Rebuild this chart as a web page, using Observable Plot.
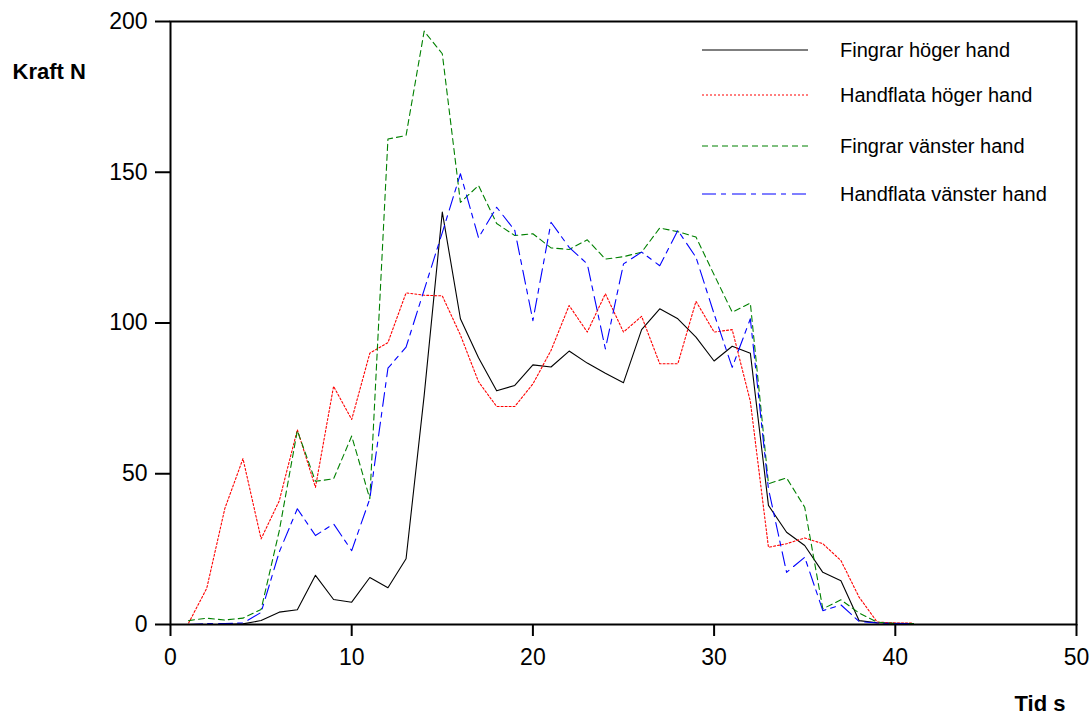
<!DOCTYPE html>
<html><head><meta charset="utf-8">
<script src="https://cdn.jsdelivr.net/npm/d3@7"></script>
<script src="https://cdn.jsdelivr.net/npm/@observablehq/plot@0.6"></script>
<style>body{margin:0;background:#fff;} #chart{width:1090px;height:717px;}</style>
</head><body><div id="chart"></div>
<script>
const time = [1,2,3,4,5,6,7,8,9,10,11,12,13,14,15,16,17,18,19,20,21,22,23,24,25,26,27,28,29,30,31,32,33,34,35,36,37,38,39,40,41];
const fingrarHoger = [0,0,0,0.2,1.3,4.1,4.9,16.3,8.3,7.4,15.6,12.2,21.8,76,136.8,101.4,88.5,77.5,79.3,86.1,85.4,90.7,86.7,83.3,80.2,97.8,104.7,101.4,95.3,87.4,92.3,90,39.5,30.6,26.2,17.3,14.5,1.3,0.6,0.4,0.3];
const handflataHoger = [0.5,12,38.5,55,28.4,41,64.6,45.5,79,68,90,93.5,110,109.2,109,96,80.5,72.3,72.3,79.8,90.9,105.8,97,109.7,97,102.2,86.5,86.5,107.2,97,97.8,74,25.6,26.8,28.7,26.8,21.2,9.1,0.8,0.5,0.5];
const fingrarVanster = [1.3,2.1,1.5,2.1,5,31,64.3,47.5,48.3,62.5,41.7,161,162.2,196.8,189.3,140,145.6,133,129,129.6,124.9,124.4,127.6,121.2,122,123.5,131.5,130.3,128.5,116,103.6,106.6,46.7,48.6,38.9,5.2,8.2,3.8,0.8,0.3,0.3];
const handflataVanster = [0,0.3,0.3,0.5,4,24,38.4,29.5,33.4,24.5,41.7,85,92,111,130,149.5,128.3,138.4,130.7,100.8,133.4,125.1,119.6,91.4,119.6,123.5,119,130.7,121.8,103,85.3,101.4,45,17.3,22.3,4.6,6.5,1,0.5,0.3,0.3];

const seriesNames = ["Fingrar höger hand","Handflata höger hand","Fingrar vänster hand","Handflata vänster hand"];
const seriesValues = [fingrarHoger, handflataHoger, fingrarVanster, handflataVanster];
const seriesColors = ["#000000","#ff0000","#008000","#0000ff"];
const seriesDash = [null,"2,2","6,4","14,5,5,6"];
const xTicks = [0,10,20,30,40,50];
const yTicks = [0,50,100,150,200];

const rows = [];
seriesNames.forEach((name,i)=> seriesValues[i].forEach((v,j)=> rows.push({t: time[j], v, s: name})));

const font = "'Liberation Sans', Arial, sans-serif";
const plot = Plot.plot({
  width:1090, height:717,
  marginLeft:170, marginRight:14, marginTop:21, marginBottom:93,
  style:{fontFamily:font, fontSize:"23px", color:"#000", background:"#fff", overflow:"visible"},
  x:{domain:[0,50]},
  y:{domain:[0,200]},
  marks:[
    ...seriesNames.map((name,i)=> Plot.line(rows.filter(d=>d.s===name), {x:"t", y:"v", stroke: seriesColors[i], strokeWidth:1.1, strokeDasharray: seriesDash[i] || undefined})),
    Plot.axisX({ticks:xTicks, tickSize:12, tickPadding:12, strokeWidth:2, label:null, tickFormat:d=>String(d)}),
    Plot.axisY({ticks:yTicks, tickSize:15, tickPadding:8, strokeWidth:2, label:null, tickFormat:d=>String(d)}),
    Plot.frame({strokeWidth:2}),
    Plot.text(["Kraft N"], {frameAnchor:"top-left", text:d=>d, dx:-158, dy:50, textAnchor:"start", lineAnchor:"middle", fontWeight:"bold", fontSize:22}),
    Plot.text(["Tid s"], {frameAnchor:"bottom-right", text:d=>d, dx:-11, dy:79, textAnchor:"end", lineAnchor:"middle", fontWeight:"bold", fontSize:22})
  ]
});
document.getElementById("chart").appendChild(plot);

// legend
const svg = d3.select(plot);
const lg = svg.append("g").attr("font-family", font).attr("font-size", 20).attr("text-anchor","start");
const rowY = [50, 95, 146, 194];
seriesNames.forEach((name,i)=>{
  lg.append("line").attr("x1",702).attr("x2",808).attr("y1",rowY[i]).attr("y2",rowY[i])
    .attr("stroke",seriesColors[i]).attr("stroke-width",1.1)
    .attr("stroke-dasharray",seriesDash[i]);
  lg.append("text").attr("x",840).attr("y",rowY[i]).attr("dy","0.35em").attr("fill","#000").attr("text-anchor","start").text(name);
});
</script>
</body></html>
